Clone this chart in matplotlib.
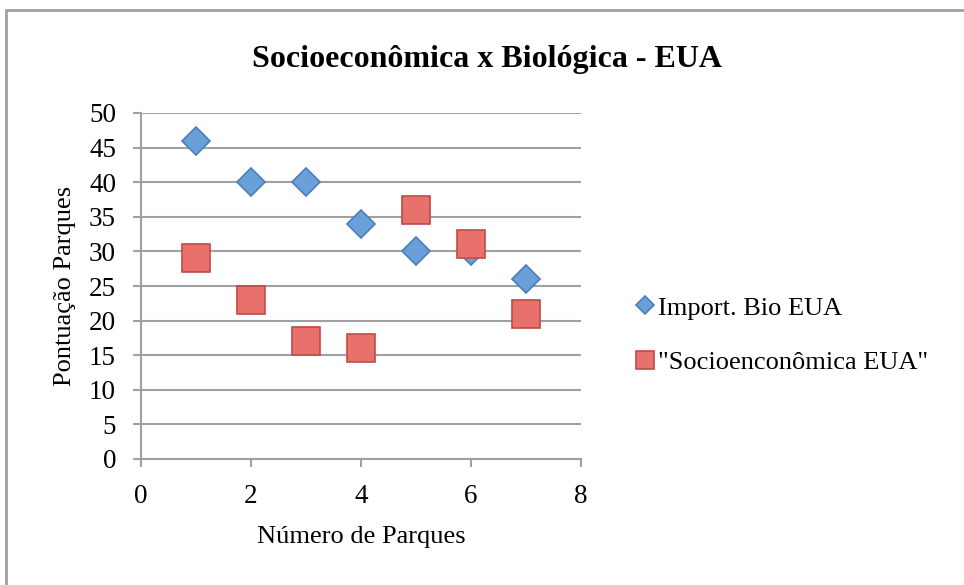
import matplotlib
matplotlib.use("Agg")
import matplotlib.pyplot as plt
from matplotlib.patches import Rectangle

# Data
parques = [1, 2, 3, 4, 5, 6, 7]
bio_eua = [46, 40, 40, 34, 30, 30, 26]
socio_eua = [29, 23, 17, 16, 36, 31, 21]

x_ticks = [0, 2, 4, 6, 8]
y_ticks = list(range(0, 55, 5))

plt.rcParams["font.family"] = ["Liberation Serif", "DejaVu Serif"]

fig = plt.figure(figsize=(9.64, 5.85), dpi=100)
ax = fig.add_axes([141 / 964, 1 - 459 / 585, 440 / 964, 346 / 585])

# Outer chart frame
fig.add_artist(Rectangle((6 / 964, -0.05), 1.1, 1 - 10 / 585 + 0.05,
                         transform=fig.transFigure, fill=False,
                         edgecolor="#a0a0a0", linewidth=2))

# Series
ax.plot(parques, bio_eua, linestyle="none", marker="D", markersize=14,
        markerfacecolor="#6b9fd9", markeredgecolor="#4a7ebb", markeredgewidth=1.2,
        label="Import. Bio EUA", zorder=3)
ax.plot(parques, socio_eua, linestyle="none", marker="s", markersize=20,
        markerfacecolor="#e8716c", markeredgecolor="#be4b48", markeredgewidth=1.2,
        label="\"Socioenconômica EUA\"", zorder=4)

ax.set_xlim(0, 8)
ax.set_ylim(0, 50)
ax.set_xticks(x_ticks)
ax.set_yticks(y_ticks)

# Gridlines and axes styling
ax.grid(True, axis="y", color="#a0a0a0", linewidth=1.5)
ax.set_axisbelow(True)
for side in ["top", "right"]:
    ax.spines[side].set_visible(False)
for side in ["left", "bottom"]:
    ax.spines[side].set_color("#a0a0a0")
    ax.spines[side].set_linewidth(1.5)
ax.tick_params(axis="both", direction="out", length=6, width=1.5,
               color="#a0a0a0", labelsize=19.5, pad=12)

ax.set_xlabel("Número de Parques", fontsize=19, labelpad=12)
ax.set_ylabel("Pontuação Parques", fontsize=19, labelpad=9)

fig.text(487 / 964, 1 - 60 / 585, "Socioeconômica x Biológica - EUA",
         ha="center", va="center", fontsize=23, fontweight="bold")

fig.legend(loc="center left", bbox_to_anchor=(608 / 964, 1 - 335 / 585),
           frameon=False, fontsize=19, handletextpad=0.0, labelspacing=1.17,
           markerscale=0.68, handlelength=1.0)

fig.savefig("out.png", dpi=100)
